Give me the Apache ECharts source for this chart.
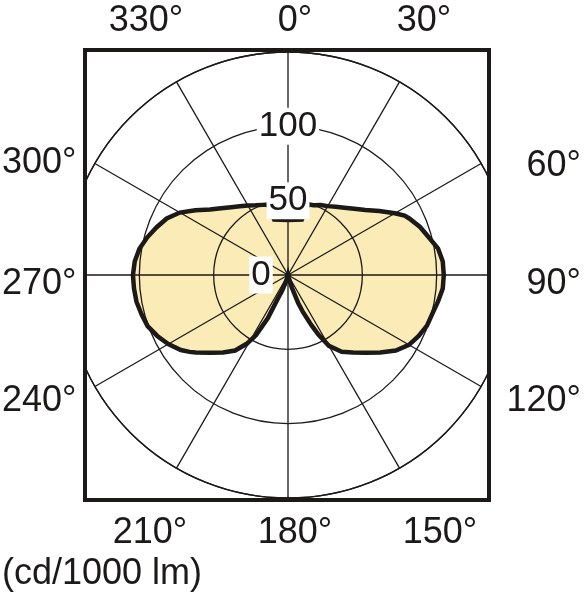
<!DOCTYPE html>
<html>
<head>
<meta charset="utf-8">
<script src="https://cdn.jsdelivr.net/npm/echarts@6/dist/echarts.min.js"></script>
<style>
  html, body { margin: 0; padding: 0; background: #fff; }
  #chart { width: 584px; height: 600px; }
</style>
</head>
<body>
<div id="chart"></div>
<script>
  // luminous intensity distribution (deg -> cd/1000 lm)
  var angleDeg = [0, 14, 16, 20, 25, 30, 35, 40, 45, 50, 55, 60, 63, 65, 70, 75, 80, 85, 90, 95,
    100, 105, 110, 115, 120, 125, 130, 135, 140, 145, 150, 153, 155, 158, 160, 163, 166, 170,
    190, 195, 198, 201, 203, 205, 208, 211, 215, 220, 225, 230, 232, 235, 240, 245, 250, 255,
    260, 265, 270, 275, 280, 285, 290, 295, 300, 305, 310, 315, 320, 325, 330, 335, 340, 344, 346, 360];
  var candela = [37, 38.5, 49.5, 50, 52, 53.5, 56, 59, 63, 68, 75, 83, 88, 90, 94.5, 98, 102.5, 104.5, 104.8, 104.5,
    102.5, 100.5, 99.5, 97, 94, 88.5, 81, 74, 68, 63, 55, 45, 37, 27, 20, 9, 2, 0,
    0, 2, 6, 12, 16, 32, 46, 54, 62, 68, 74, 81, 84, 88, 93, 97, 100.5, 102,
    103.5, 104, 104.3, 103.5, 101.5, 98, 94, 90, 84, 76, 68.5, 63.5, 59.5, 56.5, 54, 51.7, 50.2, 49.3, 38.5, 37];

  var radiusTicks = [0, 50, 100];
  var angleTicks = [0, 30, 60, 90, 120, 150, 180, 210, 240, 270, 300, 330];
  var angleTickLabels = ['0°', '30°', '60°', '90°', '120°', '150°', '180°', '210°', '240°', '270°', '300°', '330°'];
  var unitLabel = '(cd/1000 lm)';

  // where each angle label sits outside the frame (layout only)
  var labelAnchors = {
    0: [295, 21, 'center'], 30: [424, 21, 'center'], 330: [146, 21, 'center'],
    60: [581, 166, 'right'], 90: [581, 284, 'right'], 120: [581, 401, 'right'],
    300: [2, 163, 'left'], 270: [2, 284, 'left'], 240: [2, 401, 'left'],
    210: [150, 533, 'center'], 180: [295, 533, 'center'], 150: [440, 533, 'center']
  };

  var cx = 288, cy = 275, R = 223;
  var fontFamily = '"Liberation Sans", Arial, Helvetica, sans-serif';
  var ink = '#1b1a18';

  var chart = echarts.init(document.getElementById('chart'));
  var seriesData = angleDeg.map(function (a, i) { return [candela[i], a]; });

  var gridLine = { color: ink, width: 1.3 };

  chart.setOption({
    animation: false,
    polar: { center: [cx, cy], radius: R },
    angleAxis: {
      type: 'value', min: 0, max: 360, interval: 30, startAngle: 90, clockwise: true, z: 5,
      axisLine: { lineStyle: gridLine },
      axisTick: { show: false },
      axisLabel: { show: false },
      splitLine: { lineStyle: gridLine }
    },
    radiusAxis: {
      type: 'value', min: 0, max: 150, interval: 50, z: 5,
      axisLine: { show: false },
      axisTick: { show: false },
      axisLabel: { show: false },
      splitLine: { lineStyle: gridLine }
    },
    series: [
      {
        type: 'line', coordinateSystem: 'polar', data: seriesData, symbol: 'none', z: 1,
        lineStyle: { width: 0 },
        areaStyle: { color: '#FBEBB6', opacity: 1 }
      },
      {
        type: 'line', coordinateSystem: 'polar', data: seriesData, symbol: 'none', z: 10,
        lineStyle: { color: ink, width: 4.5, join: 'miter' }
      }
    ]
  });

  var elements = [
    // white strips hide the circle outside the frame
    { type: 'rect', z: 50, shape: { x: 0, y: 40, width: 83, height: 470 }, style: { fill: '#fff' } },
    { type: 'rect', z: 50, shape: { x: 491, y: 40, width: 93, height: 470 }, style: { fill: '#fff' } },
    { type: 'rect', z: 55, shape: { x: 85, y: 50, width: 404, height: 450 },
      style: { fill: null, stroke: ink, lineWidth: 4 } }
  ];

  angleTicks.forEach(function (a, i) {
    var p = labelAnchors[a];
    elements.push({
      type: 'text', z: 60, x: p[0], y: p[1],
      style: { text: angleTickLabels[i], font: '36px ' + fontFamily, fill: ink,
        textAlign: p[2], textVerticalAlign: 'middle' }
    });
  });

  radiusTicks.forEach(function (r) {
    var pt = chart.convertToPixel({ polarIndex: 0 }, [r, 0]);
    var dx = r === 0 ? -27 : 0;
    elements.push({
      type: 'text', z: 60, x: pt[0] + dx, y: pt[1],
      style: { text: String(r), font: '35px ' + fontFamily, fill: ink,
        textAlign: 'center', textVerticalAlign: 'middle',
        backgroundColor: '#fff', padding: [1, 2] }
    });
  });

  elements.push({
    type: 'text', z: 60, x: 2, y: 574,
    style: { text: unitLabel, font: '36px ' + fontFamily, fill: ink,
      textAlign: 'left', textVerticalAlign: 'middle' }
  });

  chart.setOption({ graphic: { elements: elements } });
</script>
</body>
</html>
